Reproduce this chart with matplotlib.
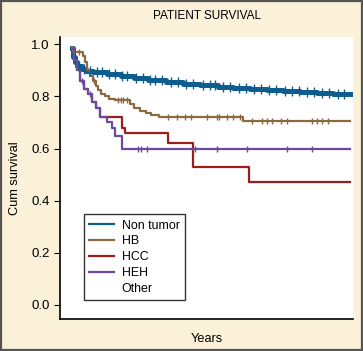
import matplotlib
matplotlib.use("Agg")
import matplotlib.pyplot as plt
from matplotlib.patches import Rectangle
from matplotlib.lines import Line2D

plt.rcParams['font.family'] = ['Liberation Sans', 'DejaVu Sans']

# Kaplan-Meier step data (time in years, cumulative survival)
non_tumor_t = [0, 0.1, 0.2, 0.4, 0.7, 1.0, 1.5, 2.5, 3.5, 4.5, 5.5, 6.8, 8.0, 9.2, 10.5,
               11.6, 12.8, 14.0, 15.2, 16.4, 17.6, 18.8, 20.0]
non_tumor_s = [0.985, 0.95, 0.93, 0.915, 0.905, 0.898, 0.892, 0.885, 0.877, 0.870, 0.862,
               0.855, 0.849, 0.843, 0.837, 0.831, 0.827, 0.824, 0.820, 0.816, 0.813, 0.810,
               0.808]
non_tumor_cens = [0.5, 0.9, 1.3, 1.8, 2.2, 2.7, 3.1, 3.6, 4.0, 4.6, 5.1, 5.6, 6.0, 6.5,
                  7.1, 7.6, 8.2, 8.7, 9.4, 9.9, 10.3, 10.9, 11.4, 12.0, 12.5, 13.1, 13.6,
                  14.2, 14.7, 15.3, 15.8, 16.3, 16.9, 17.4, 18.0, 18.5, 19.1, 19.6]

hb_t = [0, 0.07, 0.8, 0.95, 1.1, 1.3, 1.5, 1.7, 1.9, 2.1, 2.4, 2.7, 3.1, 4.2, 4.5,
        4.9, 5.3, 5.7, 6.3, 12.3, 20.0]
hb_s = [0.99, 0.97, 0.955, 0.93, 0.90, 0.88, 0.86, 0.84, 0.825, 0.81, 0.80, 0.79, 0.785,
        0.77, 0.757, 0.745, 0.735, 0.728, 0.722, 0.705, 0.705]
hb_cens = [0.5, 1.6, 3.3, 3.5, 3.7, 4.0, 6.9, 7.55, 8.1, 8.6, 9.7, 10.4, 10.6, 11.15,
           11.6, 12.1, 12.95, 13.7, 14.0, 14.4, 15.0, 15.5, 17.3, 17.6, 18.0, 18.4]

hcc_t = [0, 0.14, 0.36, 0.58, 0.86, 1.15, 1.44, 1.73, 2.0, 3.6, 3.85, 6.9, 8.7, 12.7, 20.0]
hcc_s = [0.98, 0.94, 0.90, 0.86, 0.83, 0.81, 0.78, 0.755, 0.72, 0.68, 0.66, 0.62, 0.53,
         0.47, 0.47]

heh_t = [0, 0.14, 0.36, 0.58, 0.86, 1.15, 1.44, 1.73, 2.0, 2.5, 2.9, 3.1, 3.6, 20.0]
heh_s = [0.98, 0.94, 0.90, 0.86, 0.83, 0.81, 0.78, 0.755, 0.72, 0.70, 0.68, 0.65, 0.60, 0.60]
heh_cens = [0.7, 1.3, 4.75, 5.0, 5.4, 8.85, 10.4, 12.6, 15.5, 17.3]

groups = ['Non tumor', 'HB', 'HCC', 'HEH', 'Other']
colors = ['#0f5d8f', '#8a6a3f', '#9a1f1a', '#6b4b99', 'white']


def survival_at(t_list, s_list, x):
    val = s_list[0]
    for t, s in zip(t_list, s_list):
        if t <= x:
            val = s
    return val


fig = plt.figure(figsize=(3.63, 3.51), dpi=100)
fig.patch.set_facecolor('#fbf1d8')
ax = fig.add_axes([0.165, 0.091, 0.807, 0.803])
ax.set_facecolor('white')

# HCC first so HEH covers its early, identical part
series = [
    (hcc_t, hcc_s, [], colors[2], 1.6),
    (non_tumor_t, non_tumor_s, non_tumor_cens, colors[0], 3.6),
    (hb_t, hb_s, hb_cens, colors[1], 1.6),
    (heh_t, heh_s, heh_cens, colors[3], 1.6),
]
for t, s, cens, c, lw in series:
    ax.step(t, s, where='post', color=c, lw=lw, zorder=3)
    if cens:
        ax.plot(cens, [survival_at(t, s, x) for x in cens], ls='none', marker='|',
                ms=6.5 if lw > 2 else 5, mew=1.0, color=c, zorder=4)

ax.set_xlim(-0.86, 20.2)
ax.set_ylim(-0.054, 1.027)
ax.set_yticks([0.0, 0.2, 0.4, 0.6, 0.8, 1.0])
ax.set_yticklabels(['0.0', '0.2', '0.4', '0.6', '0.8', '1.0'])
ax.set_xticks([])
ax.tick_params(axis='y', labelsize=9.5, length=4.5, width=0.8, direction='out', pad=3)
for side in ['top', 'right']:
    ax.spines[side].set_visible(False)
for side in ['left', 'bottom']:
    ax.spines[side].set_linewidth(1.2)
ax.set_ylabel('Cum survival', fontsize=9.2, labelpad=7)
ax.set_xlabel('Years', fontsize=9.2, labelpad=10)

handles = [Line2D([0], [0], color=c, lw=1.6) for c in colors]
leg = ax.legend(handles, groups, loc='lower left', bbox_to_anchor=(0.082, 0.067),
                borderaxespad=0, fontsize=8.9, frameon=True, fancybox=False,
                edgecolor='black', handlelength=2.0, handletextpad=0.6, borderpad=0.45,
                labelspacing=0.3)
leg.get_frame().set_linewidth(1.0)

fig.text(0.57, 0.955, 'PATIENT SURVIVAL', ha='center', va='center', fontsize=8.5)
fig.patches.append(Rectangle((0.002, 0.002), 0.996, 0.996, transform=fig.transFigure,
                             fill=False, edgecolor='#555555', lw=1.6))

fig.savefig('out.png', dpi=100, facecolor=fig.get_facecolor())
